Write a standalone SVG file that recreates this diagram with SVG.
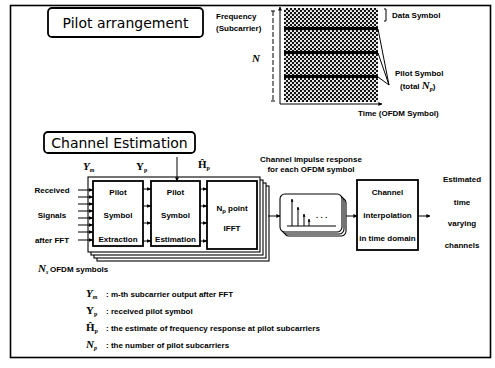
<svg xmlns="http://www.w3.org/2000/svg" width="495" height="368" viewBox="0 0 495 368">
<defs>
  <pattern id="dots" width="4" height="4" patternUnits="userSpaceOnUse">
    <rect width="4" height="4" fill="#111"/>
    <circle cx="1" cy="1" r="1.1" fill="#fff"/>
    <circle cx="3" cy="3" r="1.1" fill="#fff"/>
  </pattern>
  <marker id="ah" viewBox="0 0 10 10" refX="9" refY="5" markerWidth="4" markerHeight="4" orient="auto">
    <path d="M0,0 L10,5 L0,10 z" fill="#000"/>
  </marker>
  <marker id="ahs" viewBox="0 0 10 10" refX="9" refY="5" markerWidth="5" markerHeight="5" orient="auto" markerUnits="userSpaceOnUse">
    <path d="M0,1 L10,5 L0,9 z" fill="#000"/>
  </marker>
  <marker id="ahb" viewBox="0 0 10 10" refX="9" refY="5" markerWidth="3" markerHeight="3" orient="auto">
    <path d="M0,0 L10,5 L0,10 z" fill="#000"/>
  </marker>
</defs>
<style>
  .t { font-family: "Liberation Sans", Arial, sans-serif; font-weight: bold; font-size: 8px; fill: #000; }
  .h { font-family: "DejaVu Sans", "Liberation Sans", sans-serif; font-size: 14px; fill: #000; }
  .s { font-family: "Liberation Serif", "Times New Roman", serif; font-weight: bold; font-size: 11px; fill: #000; }
  .si { font-family: "Liberation Serif", "Times New Roman", serif; font-style: italic; font-weight: bold; font-size: 11px; fill: #000; }
  .sub { font-size: 6px; }
  .box { fill: #fff; stroke: #000; stroke-width: 1.8; }
  .lay { fill: #fff; stroke: #000; stroke-width: 1.1; }
  .ln { stroke: #000; stroke-width: 1; fill: none; }
  .c { text-anchor: middle; }
</style>

<rect x="10.5" y="5.5" width="480" height="352" fill="#fff" stroke="#000" stroke-width="1.6"/>

<g id="pilot-arrangement-title">
  <rect x="48" y="8" width="155" height="29" rx="4" class="box" stroke-width="2"/>
  <text x="125.5" y="28" class="h c">Pilot arrangement</text>
</g>

<g id="pilot-grid">
  <rect x="284" y="8" width="94" height="94" fill="url(#dots)"/>
  <rect x="284" y="27" width="94" height="3" fill="#000"/>
  <rect x="284" y="51" width="94" height="3" fill="#000"/>
  <rect x="284" y="75" width="94" height="3" fill="#000"/>
</g>

<g id="axes">
  <line x1="280" y1="104" x2="280" y2="7" class="ln" stroke-width="1.2" marker-end="url(#ah)"/>
  <line x1="280" y1="104" x2="382" y2="104" class="ln" stroke-width="1.2" marker-end="url(#ah)"/>
  <line x1="273" y1="11" x2="273" y2="101" class="ln" stroke-width="0.8" stroke-dasharray="5,2"/>
  <line x1="271" y1="11" x2="275" y2="11" class="ln" stroke-width="0.8"/>
  <line x1="271" y1="101" x2="275" y2="101" class="ln" stroke-width="0.8"/>
  <text x="216" y="19" class="t">Frequency</text>
  <text x="216" y="31" class="t">(Subcarrier)</text>
  <text x="252" y="62" class="si">N</text>
  <text x="358" y="116" class="t">Time (OFDM Symbol)</text>
</g>

<g id="grid-labels">
  <path d="M384,9 L386,9 L386,21 L384,21" class="ln" stroke-width="0.8"/>
  <text x="392" y="18" class="t">Data Symbol</text>
  <path d="M378,29 L389,85 M378,53 L389,85 M378,77 L389,85" class="ln" stroke-width="1"/>
  <text x="395" y="76" class="t">Pilot Symbol</text>
  <text x="400" y="89" class="t">(total <tspan class="si" font-size="10">N</tspan><tspan class="si sub" dy="2">p</tspan><tspan dy="-2">)</tspan></text>
</g>

<g id="channel-estimation-title">
  <rect x="44" y="132" width="151" height="21" rx="4" class="box" stroke-width="2"/>
  <text x="119.5" y="148" class="h c">Channel Estimation</text>
</g>

<g id="top-labels">
  <text x="83" y="170" class="si">Y<tspan class="sub" dy="2">m</tspan></text>
  <text x="136" y="170" class="s">Y<tspan class="sub" dy="2">p</tspan></text>
  <text x="198" y="168" class="s">Ĥ<tspan class="sub" dy="2">p</tspan></text>
</g>

<g id="stack-frame">
  <rect x="97" y="186" width="172" height="75" class="lay"/>
  <rect x="94" y="183" width="172" height="75" class="lay"/>
  <rect x="91" y="180" width="172" height="75" class="lay"/>
  <rect x="88" y="177" width="172" height="75" class="lay" stroke-width="1.4"/>
</g>

<g id="extraction">
  <rect x="93" y="181" width="50" height="65" class="box"/>
  <text x="118" y="195" class="t c">Pilot</text>
  <text x="118" y="218" class="t c">Symbol</text>
  <text x="118" y="242" class="t c">Extraction</text>
</g>

<g id="estimation">
  <rect x="151" y="181" width="49" height="65" class="box"/>
  <text x="175.5" y="195" class="t c">Pilot</text>
  <text x="175.5" y="218" class="t c">Symbol</text>
  <text x="175.5" y="242" class="t c">Estimation</text>
</g>

<g id="ifft">
  <rect x="207" y="181" width="50" height="68" class="box"/>
  <text x="232" y="211" class="t c">N<tspan class="sub" dy="2">p</tspan><tspan dy="-2"> point</tspan></text>
  <text x="232" y="231" class="t c">IFFT</text>
</g>

<g id="impulse-response">
  <rect x="284" y="198" width="62" height="38" rx="5" class="lay"/>
  <rect x="282" y="196" width="62" height="38" rx="5" class="lay"/>
  <rect x="280" y="194" width="62" height="38" rx="5" class="lay" stroke-width="1.4"/>
  <line x1="287" y1="226" x2="336" y2="226" class="ln" stroke-width="1.3"/>
  <line x1="292" y1="226" x2="292" y2="199" class="ln" stroke-width="1.3" marker-end="url(#ahb)"/>
  <line x1="298" y1="226" x2="298" y2="207" class="ln" stroke-width="1.3" marker-end="url(#ahb)"/>
  <line x1="304" y1="226" x2="304" y2="214" class="ln" stroke-width="1.3" marker-end="url(#ahb)"/>
  <line x1="309" y1="226" x2="309" y2="219" class="ln" stroke-width="1.3" marker-end="url(#ahb)"/>
  <text x="316" y="218" class="t">. . .</text>
  <text x="311" y="162" class="t c">Channel impulse response</text>
  <text x="311" y="172" class="t c">for each OFDM symbol</text>
</g>

<g id="interpolation">
  <rect x="357" y="180" width="61" height="70" class="box"/>
  <text x="387.5" y="195" class="t c">Channel</text>
  <text x="387.5" y="218" class="t c">interpolation</text>
  <text x="387.5" y="241" class="t c">in time domain</text>
</g>

<g id="output-label">
  <text x="462" y="182" class="t c">Estimated</text>
  <text x="462" y="205" class="t c">time</text>
  <text x="462" y="226" class="t c">varying</text>
  <text x="462" y="248" class="t c">channels</text>
</g>

<g id="input-label">
  <text x="52" y="193" class="t c">Received</text>
  <text x="52" y="218" class="t c">Signals</text>
  <text x="52" y="243" class="t c">after FFT</text>
  <text x="38" y="272" class="si">N<tspan class="sub" dy="2">s</tspan></text>
  <text x="50" y="272" class="t">OFDM symbols</text>
</g>

<g id="connectors">
  <line x1="78" y1="190" x2="93" y2="190" class="ln" marker-end="url(#ahs)"/>
  <line x1="78" y1="197" x2="93" y2="197" class="ln" marker-end="url(#ahs)"/>
  <line x1="78" y1="204" x2="93" y2="204" class="ln" marker-end="url(#ahs)"/>
  <line x1="78" y1="211" x2="93" y2="211" class="ln" marker-end="url(#ahs)"/>
  <line x1="78" y1="218" x2="93" y2="218" class="ln" marker-end="url(#ahs)"/>
  <line x1="78" y1="225" x2="93" y2="225" class="ln" marker-end="url(#ahs)"/>
  <line x1="78" y1="232" x2="93" y2="232" class="ln" marker-end="url(#ahs)"/>
  <line x1="78" y1="240" x2="93" y2="240" class="ln" marker-end="url(#ahs)"/>
  <line x1="143" y1="189" x2="151" y2="189" class="ln" marker-end="url(#ahs)"/>
  <line x1="143" y1="206" x2="151" y2="206" class="ln" marker-end="url(#ahs)"/>
  <line x1="143" y1="223" x2="151" y2="223" class="ln" marker-end="url(#ahs)"/>
  <line x1="143" y1="241" x2="151" y2="241" class="ln" marker-end="url(#ahs)"/>
  <line x1="200" y1="189" x2="207" y2="189" class="ln" marker-end="url(#ahs)"/>
  <line x1="200" y1="206" x2="207" y2="206" class="ln" marker-end="url(#ahs)"/>
  <line x1="200" y1="223" x2="207" y2="223" class="ln" marker-end="url(#ahs)"/>
  <line x1="200" y1="241" x2="207" y2="241" class="ln" marker-end="url(#ahs)"/>
  <line x1="177" y1="157" x2="177" y2="181" class="ln" stroke-width="2" marker-end="url(#ah)"/>
  <line x1="268" y1="216" x2="280" y2="216" class="ln" stroke-width="2.5" marker-end="url(#ah)"/>
  <line x1="346" y1="216" x2="357" y2="216" class="ln" stroke-width="2.5" marker-end="url(#ah)"/>
  <line x1="419" y1="216" x2="430" y2="216" class="ln" stroke-width="2.5" marker-end="url(#ah)"/>
</g>

<g id="legend">
  <text x="86" y="297" class="si">Y<tspan class="sub" dy="2">m</tspan></text>
  <text x="106" y="297" class="t">: m-th subcarrier output after FFT</text>
  <text x="86" y="314" class="s">Y<tspan class="sub" dy="2">p</tspan></text>
  <text x="106" y="314" class="t">: received pilot symbol</text>
  <text x="86" y="331" class="s">Ĥ<tspan class="sub" dy="2">p</tspan></text>
  <text x="106" y="331" class="t">: the estimate of frequency response at pilot subcarriers</text>
  <text x="86" y="348" class="si">N<tspan class="sub" dy="2">p</tspan></text>
  <text x="106" y="348" class="t">: the number of pilot subcarriers</text>
</g>
</svg>
